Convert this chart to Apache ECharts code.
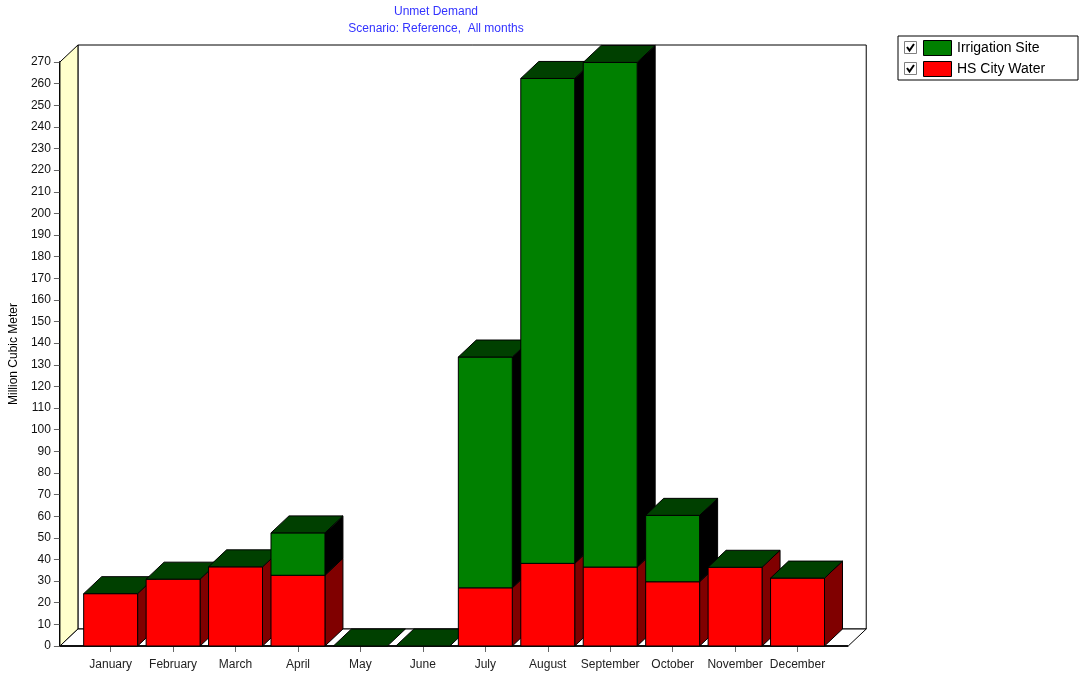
<!DOCTYPE html>
<html>
<head>
<meta charset="utf-8">
<title>Unmet Demand</title>
<script src="https://cdn.jsdelivr.net/npm/echarts@6/dist/echarts.min.js"></script>
<style>
  html, body { margin: 0; padding: 0; background: #ffffff; }
  #chart { width: 1081px; height: 674px; }
</style>
</head>
<body>
<div id="chart"></div>
<script>
// Monthly unmet demand, million cubic meters
const months = ['January', 'February', 'March', 'April', 'May', 'June',
                'July', 'August', 'September', 'October', 'November', 'December'];
const cityWater  = [24.2, 30.9, 36.6, 32.7, 0, 0, 26.9, 38.2, 36.5, 29.7, 36.4, 31.4];
const irrigation = [0, 0, 0, 19.6, 0, 0, 106.7, 224.2, 233.3, 30.7, 0, 0];
const seriesNames = ['Irrigation Site', 'HS City Water'];
const yMin = 0, yMax = 270, yStep = 10;

const FONT = '"Liberation Sans", Arial, sans-serif';
const DX = 18, DY = 17;           // depth offset of the pseudo-3D boxes
const BAR_FRAC = 0.864;           // bar width relative to category band
const PAD_FRAC = 0.312;           // extra floor beyond the outer bars, relative to band

const COLORS = {
  green: '#008000', greenSide: '#000000',
  red: '#ff0000', redSide: '#800000',
  top: '#004000', wall: '#ffffcc'
};

function face(points, fill) {
  return { type: 'polygon', shape: { points: points },
           style: { fill: fill, stroke: '#000', lineWidth: 1 } };
}

const chart = echarts.init(document.getElementById('chart'), null, { renderer: 'canvas' });

const barData = months.map((m, i) => [i, cityWater[i], irrigation[i]]);

// Legend drawn as a boxed list with check boxes
const legendColors = [COLORS.green, COLORS.red];
const legendGraphics = [{
  type: 'rect', shape: { x: 898, y: 36, width: 180, height: 44 },
  style: { fill: '#fff', stroke: '#000', lineWidth: 1 }
}];
seriesNames.forEach((name, k) => {
  const cy = 48 + k * 21;
  legendGraphics.push(
    { type: 'rect', shape: { x: 904.5, y: cy - 6.5, width: 12, height: 12 },
      style: { fill: '#fff', stroke: '#808080', lineWidth: 1 } },
    { type: 'polyline', shape: { points: [[907, cy - 1], [909.5, cy + 2.5], [914, cy - 4]] },
      style: { stroke: '#000', lineWidth: 2, fill: null } },
    { type: 'rect', shape: { x: 923.5, y: cy - 7.5, width: 28, height: 15 },
      style: { fill: legendColors[k], stroke: '#000', lineWidth: 1 } },
    { type: 'text', x: 957, y: cy + 0.5,
      style: { text: name, font: '14px ' + FONT, fill: '#000', textVerticalAlign: 'middle', verticalAlign: 'middle' } }
  );
});

const option = {
  animation: false,
  backgroundColor: '#ffffff',
  title: {
    text: 'Unmet Demand',
    subtext: 'Scenario: Reference,  All months',
    left: 436, top: 6, textAlign: 'center', padding: 0, itemGap: 5,
    textStyle: { fontFamily: FONT, fontSize: 12, fontWeight: 'normal', color: '#3333ff' },
    subtextStyle: { fontFamily: FONT, fontSize: 12, color: '#3333ff' }
  },
  grid: { left: 78.75, top: 62, width: 750, height: 584 },
  xAxis: {
    type: 'category', data: months, boundaryGap: true,
    axisLine: { show: false },
    axisTick: { show: true, alignWithLabel: true, length: 6, lineStyle: { color: '#666' } },
    axisLabel: { interval: 0, margin: 13, fontFamily: FONT, fontSize: 12, color: '#222' },
    splitLine: { show: false }
  },
  yAxis: {
    type: 'value', min: yMin, max: yMax, interval: yStep, offset: 19.5,
    name: 'Million Cubic Meter', nameLocation: 'middle', nameRotate: 90, nameGap: 33,
    nameTextStyle: { fontFamily: FONT, fontSize: 12, color: '#000' },
    axisLine: { show: true, lineStyle: { color: '#000', width: 2 } },
    axisTick: { show: true, length: 6, lineStyle: { color: '#666' } },
    axisLabel: { margin: 9, fontFamily: FONT, fontSize: 12, color: '#111' },
    splitLine: { show: false }
  },
  graphic: legendGraphics,
  series: [
    {
      // walls and floor of the plot box
      type: 'custom', z: 1, silent: true,
      data: [[0]],
      renderItem: function (params, api) {
        const cs = params.coordSys;
        const band = api.size([1, 0])[0];
        const pad = band * PAD_FRAC;
        const L = cs.x - pad, R = cs.x + cs.width + pad;
        const yb = api.coord([0, yMin])[1];
        const yt = api.coord([0, yMax])[1];
        return {
          type: 'group',
          children: [
            face([[L + DX, yt - DY], [R + DX, yt - DY], [R + DX, yb - DY], [L + DX, yb - DY]], '#ffffff'),
            face([[L, yb], [L, yt], [L + DX, yt - DY], [L + DX, yb - DY]], COLORS.wall),
            face([[L, yb], [R, yb], [R + DX, yb - DY], [L + DX, yb - DY]], '#ffffff'),
            { type: 'line', shape: { x1: L, y1: yb, x2: R, y2: yb },
              style: { stroke: '#111', lineWidth: 2 } }
          ]
        };
      }
    },
    {
      // stacked boxes: city water at the bottom, irrigation above
      type: 'custom', z: 3, silent: true,
      data: barData,
      encode: { x: 0, y: [1, 2] },
      renderItem: function (params, api) {
        const i = api.value(0);
        const red = api.value(1), irr = api.value(2);
        const base = api.coord([i, 0]);
        const band = api.size([1, 0])[0];
        const w = band * BAR_FRAC;
        const x0 = base[0] - w / 2, x1 = base[0] + w / 2;
        const yb = base[1];
        const yr = api.coord([i, red])[1];
        const yt = api.coord([i, red + irr])[1];
        const children = [];
        if (red > 0) {
          children.push(face([[x1, yb], [x1 + DX, yb - DY], [x1 + DX, yr - DY], [x1, yr]], COLORS.redSide));
          children.push(face([[x0, yb], [x1, yb], [x1, yr], [x0, yr]], COLORS.red));
        }
        if (irr > 0) {
          children.push(face([[x1, yr], [x1 + DX, yr - DY], [x1 + DX, yt - DY], [x1, yt]], COLORS.greenSide));
          children.push(face([[x0, yr], [x1, yr], [x1, yt], [x0, yt]], COLORS.green));
        }
        children.push(face([[x0, yt], [x1, yt], [x1 + DX, yt - DY], [x0 + DX, yt - DY]], COLORS.top));
        return { type: 'group', children: children };
      }
    }
  ]
};

chart.setOption(option);
</script>
</body>
</html>
